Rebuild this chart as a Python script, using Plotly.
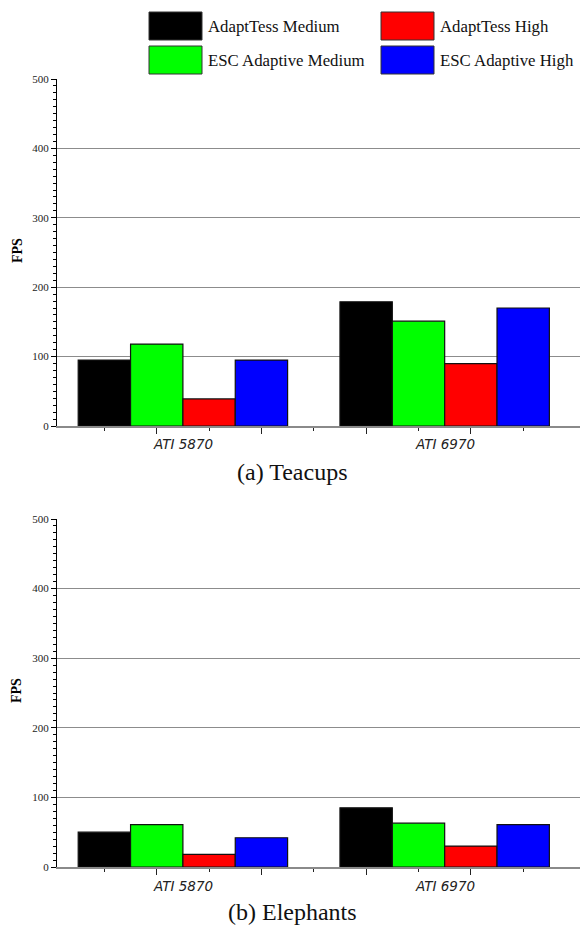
import plotly.graph_objects as go

categories = ["ATI 5870", "ATI 6970"]
series_names = ["AdaptTess Medium", "ESC Adaptive Medium", "AdaptTess High", "ESC Adaptive High"]
series_colors = ["#000000", "#00ff00", "#ff0000", "#0000ff"]
teacups = {
    "AdaptTess Medium": [95, 179],
    "ESC Adaptive Medium": [118, 151],
    "AdaptTess High": [39, 90],
    "ESC Adaptive High": [95, 170],
}
elephants = {
    "AdaptTess Medium": [50, 85],
    "ESC Adaptive Medium": [61, 63],
    "AdaptTess High": [18, 30],
    "ESC Adaptive High": [42, 61],
}
captions = ["(a) Teacups", "(b) Elephants"]
y_ticks = [0, 100, 200, 300, 400, 500]

W, H = 580, 925

def px_y(py):
    return (H - py) / H

def px_x(px):
    return px / W

fig = go.Figure()
xpos = list(range(len(categories)))
for data, xa, ya in [(teacups, "x", "y"), (elephants, "x2", "y2")]:
    for name, col in zip(series_names, series_colors):
        fig.add_trace(go.Bar(
            x=xpos, y=data[name], name=name, xaxis=xa, yaxis=ya,
            marker=dict(color=col, line=dict(color="#111111", width=1.2)),
            showlegend=False, offsetgroup=name,
        ))

xdom = [px_x(57), 1]
xrange_ = [-0.481, 1.517]
serif = "Liberation Serif, Times New Roman, serif"
xaxis_common = dict(
    domain=xdom, range=xrange_, showgrid=False, zeroline=False,
    showline=True, linecolor="#8a8a8a", linewidth=1.5,
    tickmode="array", tickvals=[-0.1, 0.3, 0.7, 1.1], showticklabels=False,
    ticks="outside", ticklen=6, tickwidth=1, tickcolor="#222222",
    minor=dict(tickmode="array", tickvals=[-0.3, 0.1, 0.5, 0.9, 1.3],
               ticks="outside", ticklen=3, tickwidth=1, tickcolor="#222222", showgrid=False),
    automargin=False, fixedrange=True,
)
yaxis_common = dict(
    range=[0, 500], tickmode="array", tickvals=y_ticks,
    showgrid=True, gridcolor="#8c8c8c", gridwidth=1.2, zeroline=False,
    showline=True, linecolor="#000000", linewidth=1,
    ticks="outside", ticklen=5, tickwidth=1, tickcolor="#000000",
    tickfont=dict(family=serif, size=11, color="#222222"),
    minor=dict(dtick=10, ticks="outside", ticklen=3, tickwidth=1, tickcolor="#000000", showgrid=False),
    automargin=False, fixedrange=True,
)
fig.update_layout(
    width=W, height=H, margin=dict(l=0, r=0, t=0, b=0),
    paper_bgcolor="white", plot_bgcolor="white",
    barmode="group", bargap=0.2, bargroupgap=0,
    xaxis=dict(anchor="y", **xaxis_common),
    yaxis=dict(anchor="x", domain=[px_y(426), px_y(79)], **yaxis_common),
    xaxis2=dict(anchor="y2", **xaxis_common),
    yaxis2=dict(anchor="x2", domain=[px_y(867), px_y(519)], **yaxis_common),
)

annotations = []
# y-axis titles
for ypix in [251, 691]:
    annotations.append(dict(x=px_x(17), y=px_y(ypix), xref="paper", yref="paper", text="<b>FPS</b>",
                            textangle=-90, showarrow=False,
                            font=dict(family=serif, size=14, color="#000000"),
                            xanchor="center", yanchor="middle"))
# category labels
for xa, ypix in [("x", 444), ("x2", 886)]:
    for i, c in enumerate(categories):
        annotations.append(dict(x=i, y=px_y(ypix), xref=xa, yref="paper", text="<i>" + c + "</i>",
                                showarrow=False, font=dict(family="DejaVu Sans", size=13.5, color="#222222"),
                                xanchor="center", yanchor="middle"))
# captions
for cap, ypix in zip(captions, [472, 912]):
    annotations.append(dict(x=px_x(292), y=px_y(ypix), xref="paper", yref="paper", text=cap, showarrow=False,
                            font=dict(family=serif, size=24, color="#111111"), xanchor="center", yanchor="middle"))

# legend (2x2 boxes)
shapes = []
legend_order = [("AdaptTess Medium", 149, 12), ("AdaptTess High", 381, 12),
                ("ESC Adaptive Medium", 149, 46), ("ESC Adaptive High", 381, 46)]
for name, bx, by in legend_order:
    col = series_colors[series_names.index(name)]
    shapes.append(dict(type="rect", xref="paper", yref="paper",
                       x0=px_x(bx), x1=px_x(bx + 53), y0=px_y(by + 28), y1=px_y(by),
                       fillcolor=col, line=dict(color="#333333", width=1)))
    annotations.append(dict(x=px_x(bx + 57), y=px_y(by + 14), xref="paper", yref="paper", text=name,
                            showarrow=False, font=dict(family=serif, size=16.8, color="#111111"),
                            xanchor="left", yanchor="middle"))

fig.update_layout(annotations=annotations, shapes=shapes)
fig.write_html("out.html", config={"displayModeBar": False, "staticPlot": True},
               post_script="document.body.style.margin='0';document.body.style.overflow='hidden';")
